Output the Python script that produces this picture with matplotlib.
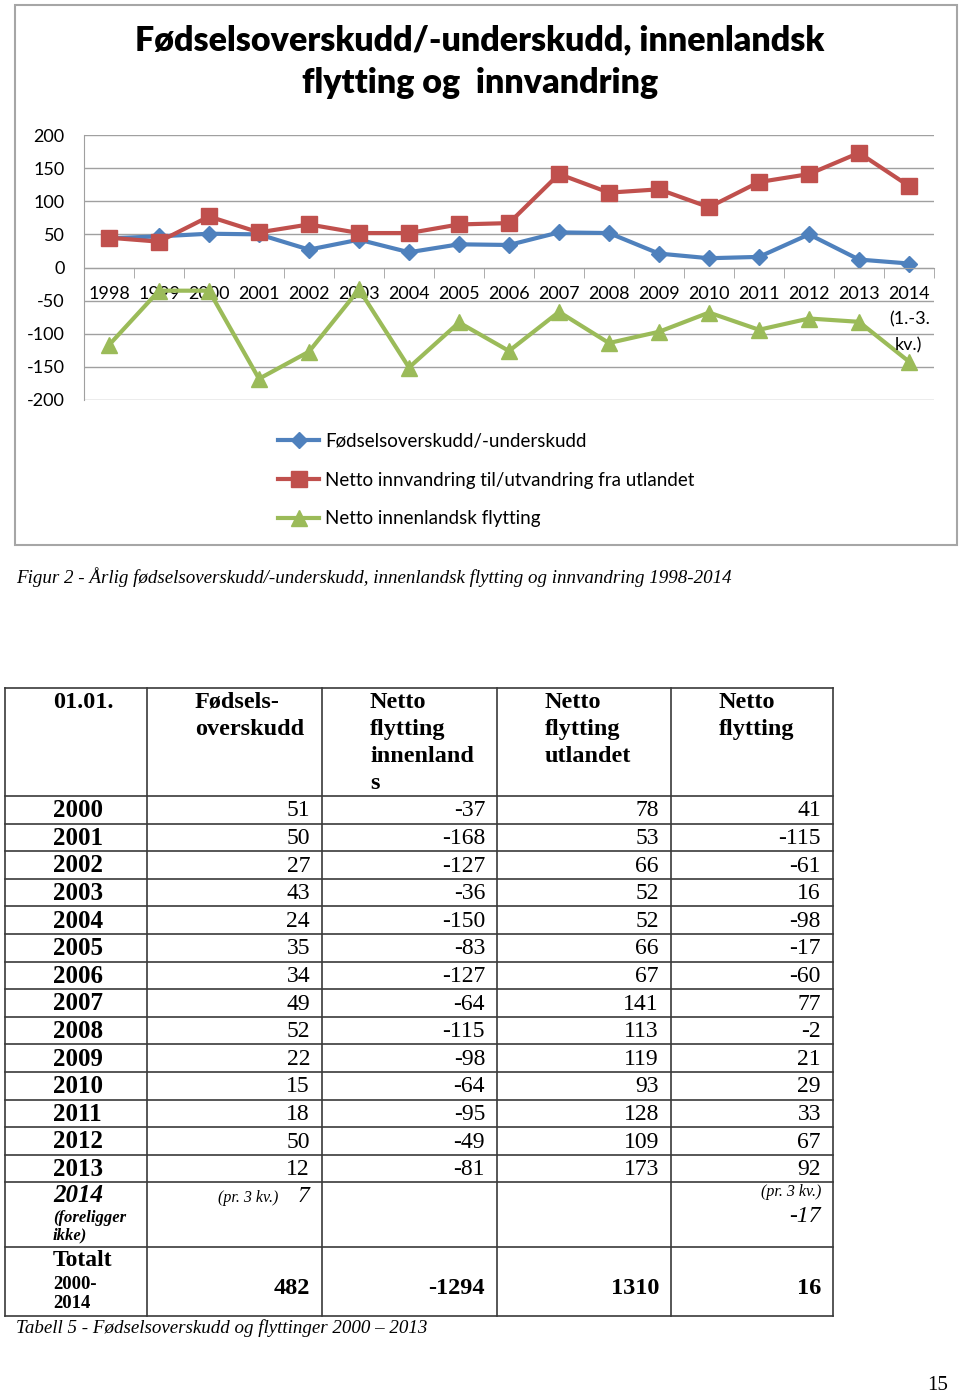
import matplotlib
matplotlib.use("Agg")
import matplotlib.pyplot as plt
from matplotlib.lines import Line2D
from matplotlib.patches import Rectangle
import numpy as np

plt.rcParams["axes.unicode_minus"] = False

## Chart data
years = [str(y) for y in range(1998, 2015)]
fodsel = [44, 47, 51, 50, 27, 42, 23, 35, 34, 53, 52, 21, 14, 16, 50, 12, 6]
utland = [45, 39, 77, 53, 65, 52, 52, 65, 67, 141, 113, 118, 91, 129, 141, 173, 123]
innenland = [-117, -35, -35, -168, -127, -33, -151, -83, -126, -67, -114, -97, -68, -94, -77, -82, -142]

## Table data
tab_years = [str(y) for y in range(2000, 2014)]
tab_fodsel = [51, 50, 27, 43, 24, 35, 34, 49, 52, 22, 15, 18, 50, 12]
tab_innen = [-37, -168, -127, -36, -150, -83, -127, -64, -115, -98, -64, -95, -49, -81]
tab_utland = [78, 53, 66, 52, 52, 66, 67, 141, 113, 119, 93, 128, 109, 173]
tab_netto = [41, -115, -61, 16, -98, -17, -60, 77, -2, 21, 29, 33, 67, 92]
tab_totals = [482, -1294, 1310, 16]
headers = ["01.01.", "Fødsels-\noverskudd", "Netto\nflytting\ninnenland\ns",
           "Netto\nflytting\nutlandet", "Netto\nflytting"]

W, H = 960, 1395
fig = plt.figure(figsize=(W / 100, H / 100), dpi=100)

def fx(x):
    return x / W

def fy(y):
    return 1 - y / H

sans = "Lato"
serif = "Liberation Serif"

# chart frame
fig.patches.append(Rectangle((fx(15), fy(545)), fx(942), 540 / H, transform=fig.transFigure,
                             fill=False, edgecolor="#a6a6a6", lw=1.5))

fig.text(fx(480), fy(40), "Fødselsoverskudd/-underskudd, innenlandsk",
         ha="center", va="center", fontsize=24.5, fontweight="heavy", family=sans)
fig.text(fx(480), fy(83), "flytting og  innvandring",
         ha="center", va="center", fontsize=24.5, fontweight="heavy", family=sans)

ax = fig.add_axes([fx(84), fy(400), (934 - 84) / W, (400 - 135) / H])
x = np.arange(len(years))
ax.plot(x, fodsel, color="#4F81BD", lw=3, marker="D", ms=8, label="Fødselsoverskudd/-underskudd")
ax.plot(x, utland, color="#C0504D", lw=3, marker="s", ms=11,
        label="Netto innvandring til/utvandring fra utlandet")
ax.plot(x, innenland, color="#9BBB59", lw=3, marker="^", ms=12, label="Netto innenlandsk flytting")

ax.set_ylim(-200, 200)
ax.set_xlim(-0.5, len(years) - 0.5)
ax.set_yticks(range(-200, 201, 50))
ax.yaxis.grid(True, color="#a0a0a0", lw=1)
ax.set_axisbelow(True)
for s in ["top", "right"]:
    ax.spines[s].set_visible(False)
ax.spines["left"].set_color("#a0a0a0")
ax.spines["bottom"].set_position(("data", 0))
ax.spines["bottom"].set_color("#a0a0a0")
ax.set_xticks(x)
ax.set_xticklabels(years)
ax.set_xticks(np.arange(-0.5, len(years), 1), minor=True)
ax.tick_params(axis="x", which="major", length=0, pad=13, labelsize=13)
ax.tick_params(axis="x", which="minor", length=7, color="#a0a0a0", direction="out")
ax.tick_params(axis="y", length=0, pad=14, labelsize=13)
for lab in ax.get_xticklabels() + ax.get_yticklabels():
    lab.set_family(sans)

fig.text(fx(930), fy(319), "(1.-3.", ha="right", va="center", fontsize=13, family=sans)
fig.text(fx(922), fy(345), "kv.)", ha="right", va="center", fontsize=13, family=sans)

ax.legend(loc="upper left", bbox_to_anchor=(fx(278), fy(433)), bbox_transform=fig.transFigure,
          frameon=False, borderpad=0, borderaxespad=0, handlelength=2.2, handletextpad=0.3,
          labelspacing=1.15, prop={"family": sans, "size": 13.5}, numpoints=1)

fig.text(fx(16), fy(577), "Figur 2 - Årlig fødselsoverskudd/-underskudd, innenlandsk flytting og innvandring 1998-2014",
         ha="left", va="center", fontsize=13.7, style="italic", family=serif)

## Table
col_x = [5, 147, 322, 497, 671, 833]
row_h = 27.6
top = 688
head_bot = 796
rows_y = [head_bot + row_h * k for k in range(len(tab_years) + 1)]
row2014_bot = 1247
bottom = 1316
lc = "#3a3a3a"
for cx in col_x:
    fig.add_artist(Line2D([fx(cx), fx(cx)], [fy(top), fy(bottom)], color=lc, lw=1.2))
for ry in [top] + rows_y + [row2014_bot, bottom]:
    fig.add_artist(Line2D([fx(col_x[0]), fx(col_x[-1])], [fy(ry), fy(ry)], color=lc, lw=1.2))

for i, h in enumerate(headers):
    hx = 53 if i == 0 else col_x[i] + 48
    fig.text(fx(hx), fy(692), h, ha="left", va="top", fontsize=17.5, fontweight="bold",
             family=serif, linespacing=1.38)

cols = [tab_fodsel, tab_innen, tab_utland, tab_netto]
for r, yr in enumerate(tab_years):
    cy = rows_y[r] + row_h / 2 + 1
    fig.text(fx(53), fy(cy), yr, ha="left", va="center", fontsize=18, fontweight="bold", family=serif)
    for c, vals in enumerate(cols):
        fig.text(fx(col_x[c + 2] - 12), fy(cy), str(vals[r]), ha="right", va="center",
                 fontsize=17, family=serif)

# 2014 row
fig.text(fx(53), fy(1196), "2014", ha="left", va="center", fontsize=18, fontweight="bold",
         style="italic", family=serif)
fig.text(fx(53), fy(1227), "(foreligger\nikke)", ha="left", va="center", fontsize=12,
         fontweight="bold", style="italic", family=serif, linespacing=1.1)
fig.text(fx(278), fy(1198), "(pr. 3 kv.)", ha="right", va="center", fontsize=11.5, style="italic", family=serif)
fig.text(fx(309), fy(1196), "7", ha="right", va="center", fontsize=17, style="italic", family=serif)
fig.text(fx(821), fy(1192), "(pr. 3 kv.)", ha="right", va="center", fontsize=11.5, style="italic", family=serif)
fig.text(fx(821), fy(1216), "-17", ha="right", va="center", fontsize=17, style="italic", family=serif)

# Totalt row
fig.text(fx(53), fy(1261), "Totalt", ha="left", va="center", fontsize=17, fontweight="bold", family=serif)
fig.text(fx(53), fy(1294), "2000-\n2014", ha="left", va="center", fontsize=13.5, fontweight="bold",
         family=serif, linespacing=1.15)
for c, v in enumerate(tab_totals):
    fig.text(fx(col_x[c + 2] - 12), fy(1288), str(v), ha="right", va="center", fontsize=17.5,
             fontweight="bold", family=serif)

fig.text(fx(16), fy(1328), "Tabell 5 - Fødselsoverskudd og flyttinger 2000 – 2013", ha="left",
         va="center", fontsize=13.7, style="italic", family=serif)
fig.text(fx(948), fy(1385), "15", ha="right", va="center", fontsize=15, family=serif)

fig.savefig("out.png", dpi=100)
